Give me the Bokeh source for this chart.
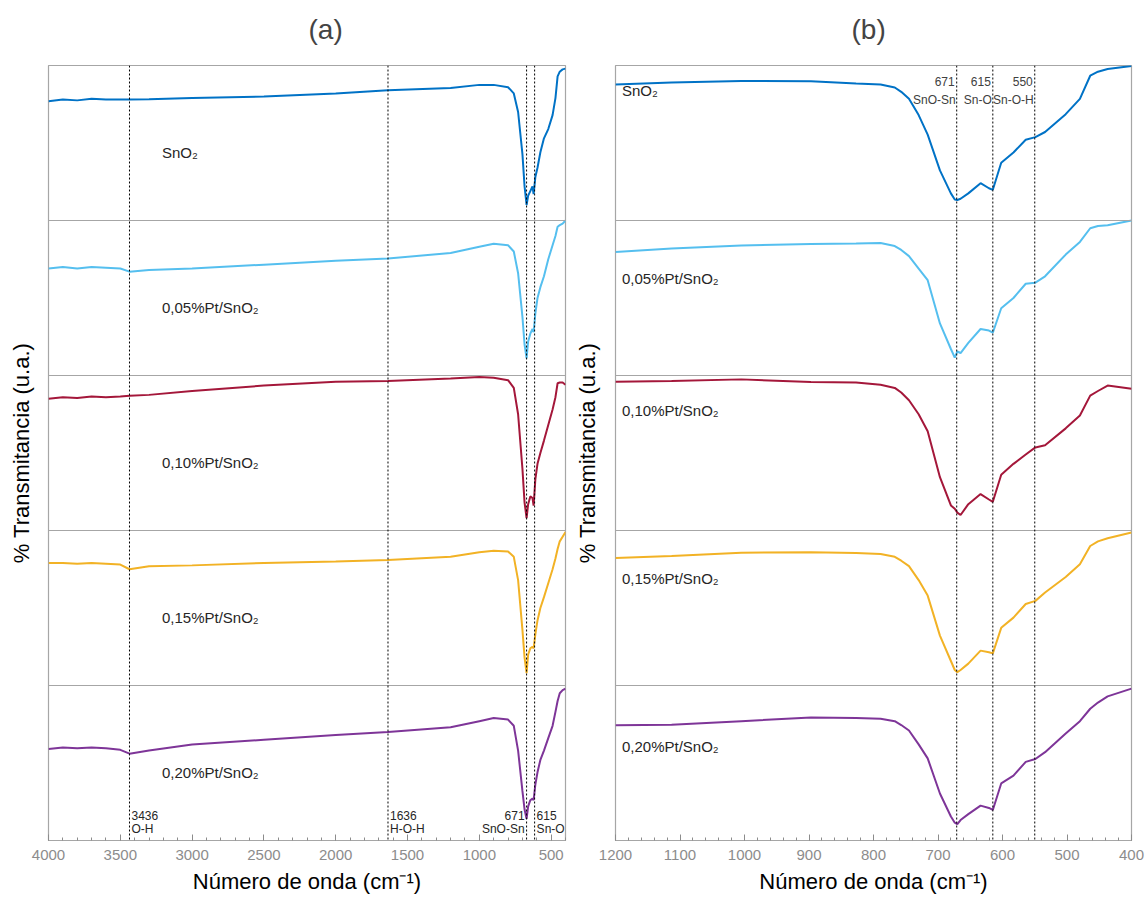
from bokeh.plotting import figure
from bokeh.layouts import row
from bokeh.models import Range1d, Span, SingleIntervalTicker, FixedTicker
from bokeh.core.properties import value
from bokeh.embed import file_html
from bokeh.resources import INLINE

# ---- sample names and colours ----
samples = ["SnO₂", "0,05%Pt/SnO₂", "0,10%Pt/SnO₂", "0,15%Pt/SnO₂", "0,20%Pt/SnO₂"]
colors = ["#0072C6", "#55BFEF", "#A4173A", "#F2B225", "#7E3598"]

# ---- panel (a): full range 4000-400 cm-1 (normalised transmittance within each band) ----
wn_a = [4000, 3900, 3800, 3700, 3600, 3500, 3436, 3300, 3000, 2500, 2000, 1636, 1200,
        1000, 900, 800, 760, 730, 700, 685, 671, 660, 645, 630, 622, 610, 595, 575,
        550, 520, 490, 470, 455, 440, 420, 400]
t_a_sno2 = [0.77, 0.78, 0.775, 0.785, 0.78, 0.78, 0.78, 0.783, 0.79, 0.80, 0.82, 0.84, 0.855,
            0.875, 0.875, 0.86, 0.82, 0.70, 0.43, 0.22, 0.10, 0.16, 0.19, 0.22, 0.17, 0.28,
            0.34, 0.44, 0.53, 0.59, 0.68, 0.79, 0.93, 0.96, 0.975, 0.98]
t_a_005 = [0.69, 0.70, 0.69, 0.70, 0.695, 0.69, 0.67, 0.68, 0.69, 0.715, 0.74, 0.755, 0.79,
           0.83, 0.85, 0.84, 0.80, 0.66, 0.38, 0.20, 0.11, 0.22, 0.27, 0.30, 0.28, 0.40,
           0.50, 0.57, 0.64, 0.75, 0.84, 0.90, 0.96, 0.97, 0.98, 1.0]
t_a_010 = [0.85, 0.86, 0.855, 0.865, 0.86, 0.865, 0.87, 0.875, 0.90, 0.935, 0.96, 0.965, 0.98,
           0.99, 0.985, 0.97, 0.92, 0.75, 0.40, 0.18, 0.08, 0.17, 0.22, 0.21, 0.16, 0.33,
           0.43, 0.50, 0.58, 0.68, 0.78, 0.86, 0.95, 0.955, 0.955, 0.94]
t_a_015 = [0.79, 0.79, 0.785, 0.79, 0.785, 0.78, 0.75, 0.77, 0.775, 0.79, 0.80, 0.81, 0.83,
           0.86, 0.87, 0.865, 0.83, 0.68, 0.36, 0.18, 0.08, 0.20, 0.24, 0.25, 0.24, 0.33,
           0.42, 0.50, 0.57, 0.66, 0.75, 0.82, 0.88, 0.93, 0.96, 0.99]
t_a_020 = [0.59, 0.60, 0.595, 0.60, 0.595, 0.585, 0.56, 0.58, 0.62, 0.65, 0.68, 0.70, 0.73,
           0.77, 0.79, 0.78, 0.74, 0.58, 0.32, 0.20, 0.14, 0.22, 0.26, 0.27, 0.26, 0.36,
           0.44, 0.52, 0.58, 0.66, 0.74, 0.83, 0.90, 0.95, 0.97, 0.98]

# ---- panel (b): zoom 1200-400 cm-1 ----
wn_b = [1200, 1113, 1005, 897, 827, 789, 767, 757, 745, 730, 716, 697, 680, 674, 670, 665,
        653, 634, 621, 615, 602, 583, 564, 549, 534, 502, 480, 464, 452, 437, 400]
t_b_sno2 = [0.878, 0.891, 0.90, 0.898, 0.884, 0.878, 0.858, 0.83, 0.785, 0.68, 0.554, 0.323,
            0.175, 0.135, 0.132, 0.14, 0.175, 0.241, 0.208, 0.198, 0.373, 0.439, 0.521,
            0.538, 0.571, 0.686, 0.785, 0.934, 0.96, 0.977, 0.997]
t_b_005 = [0.796, 0.819, 0.839, 0.849, 0.852, 0.855, 0.835, 0.81, 0.77, 0.69, 0.615, 0.336,
           0.171, 0.115, 0.155, 0.145, 0.21, 0.30, 0.29, 0.276, 0.434, 0.50, 0.592,
           0.599, 0.64, 0.78, 0.862, 0.95, 0.965, 0.97, 1.0]
t_b_010 = [0.96, 0.964, 0.975, 0.958, 0.955, 0.94, 0.92, 0.89, 0.84, 0.75, 0.64, 0.344,
           0.162, 0.14, 0.115, 0.10, 0.17, 0.235, 0.20, 0.185, 0.36, 0.43, 0.49,
           0.536, 0.55, 0.659, 0.742, 0.87, 0.90, 0.935, 0.914]
t_b_015 = [0.822, 0.836, 0.857, 0.859, 0.855, 0.849, 0.83, 0.805, 0.77, 0.68, 0.58, 0.322,
           0.158, 0.10, 0.086, 0.10, 0.141, 0.225, 0.215, 0.207, 0.372, 0.438, 0.526,
           0.546, 0.60, 0.70, 0.783, 0.90, 0.93, 0.95, 0.987]
t_b_020 = [0.743, 0.747, 0.77, 0.793, 0.79, 0.786, 0.77, 0.745, 0.71, 0.62, 0.53, 0.303,
           0.155, 0.115, 0.105, 0.132, 0.17, 0.225, 0.21, 0.197, 0.368, 0.418, 0.507,
           0.526, 0.57, 0.69, 0.77, 0.85, 0.89, 0.93, 0.98]

# band assignments for the dotted marker lines
marks_a = [3436, 1636, 671, 615]
marks_a_num = ["3436", "1636", "671", "615"]
marks_a_name = ["O-H", "H-O-H", "SnO-Sn", "Sn-O"]
marks_b = [671, 615, 550]
marks_b_num = ["671", "615", "550"]
marks_b_name = ["SnO-Sn", "Sn-O", "Sn-O-H"]

series_a = [t_a_sno2, t_a_005, t_a_010, t_a_015, t_a_020]
series_b = [t_b_sno2, t_b_005, t_b_010, t_b_015, t_b_020]

FONT = "Liberation Sans"
N = len(samples)
TOP = 78      # space reserved above the frame
SHIFT = 13    # figure pulled up by this much so the frame starts at y=65


def make_panel(title, x_start, x_end, interval, width, border_left, border_right,
               label_standoff, title_offset):
    p = figure(width=width, height=TOP + 775 + 57, output_backend="svg",
               toolbar_location=None,
               x_range=Range1d(x_start, x_end), y_range=Range1d(0, N),
               min_border_left=border_left, min_border_right=border_right,
               min_border_top=TOP, min_border_bottom=57, margin=(-SHIFT, 0, 0, 0))
    p.title.text = title
    p.title.align = "left"
    p.title.offset = title_offset
    p.title.text_font = FONT
    p.title.text_font_size = "28px"
    p.title.text_font_style = "normal"
    p.title.standoff = 42
    p.grid.visible = False
    p.background_fill_color = "white"
    p.border_fill_color = "white"
    p.outline_line_color = "#a6a6a6"
    p.outline_line_width = 1.2

    xa = p.xaxis[0]
    xa.ticker = SingleIntervalTicker(interval=interval, num_minor_ticks=5)
    xa.axis_line_color = "#a6a6a6"
    xa.major_tick_line_color = "#8c8c8c"
    xa.minor_tick_line_color = "#8c8c8c"
    xa.major_tick_in = 6
    xa.major_tick_out = 0
    xa.minor_tick_in = 3
    xa.minor_tick_out = 0
    xa.major_label_text_font = FONT
    xa.major_label_text_font_size = "15px"
    xa.major_label_text_color = "#8c8c8c"
    xa.major_label_standoff = 9
    xa.axis_label = "Número de onda (cm⁻¹)"
    xa.axis_label_text_font = FONT
    xa.axis_label_text_font_size = "22px"
    xa.axis_label_text_font_style = "normal"
    xa.axis_label_text_color = "black"
    xa.axis_label_standoff = 6

    ya = p.yaxis[0]
    ya.ticker = FixedTicker(ticks=[])
    ya.axis_line_color = None
    ya.major_tick_line_color = None
    ya.minor_tick_line_color = None
    ya.axis_label = "% Transmitancia (u.a.)"
    ya.axis_label_text_font = FONT
    ya.axis_label_text_font_size = "22px"
    ya.axis_label_text_font_style = "normal"
    ya.axis_label_text_color = "black"
    ya.axis_label_standoff = label_standoff

    for k in range(1, N):
        p.add_layout(Span(location=k, dimension="width", line_color="#a6a6a6", line_width=1))
    return p


# ---------------- panel (a) ----------------
pa = make_panel("(a)", 4000, 400, 500, 570, 48, 5, 15, 260)
for i, (t, c) in enumerate(zip(series_a, colors)):
    base = N - 1 - i
    pa.line(wn_a, [base + v for v in t], line_color=c, line_width=2)
for wn in marks_a:
    pa.add_layout(Span(location=wn, dimension="height", line_color="black",
                       line_width=1, line_dash="2 2"))
for wn, num, name in zip(marks_a, marks_a_num, marks_a_name):
    right = wn == 671
    pa.text(x=[wn], y=[0.16], text=[num], text_font=value(FONT), text_font_size="12px",
            text_color="#262626", text_baseline="middle",
            text_align="right" if right else "left", x_offset=-2 if right else 2)
    pa.text(x=[wn], y=[0.075], text=[name], text_font=value(FONT), text_font_size="12px",
            text_color="#262626", text_baseline="middle",
            text_align="right" if right else "left", x_offset=-2 if right else 2)
for i, name in enumerate(samples):
    pa.text(x=[3210], y=[N - 1 - i + 0.44], text=[name], text_font=value(FONT),
            text_font_size="15px", text_color="#262626", text_baseline="middle",
            text_align="left")

# ---------------- panel (b) ----------------
pb = make_panel("(b)", 1200, 400, 100, 578, 45, 17, 16, 236)
for i, (t, c) in enumerate(zip(series_b, colors)):
    base = N - 1 - i
    pb.line(wn_b, [base + v for v in t], line_color=c, line_width=2)
for wn in marks_b:
    pb.add_layout(Span(location=wn, dimension="height", line_color="black",
                       line_width=1, line_dash="2 2"))
for wn, num, name in zip(marks_b, marks_b_num, marks_b_name):
    pb.text(x=[wn], y=[4.897], text=[num], text_font=value(FONT), text_font_size="12px",
            text_color="#404040", text_baseline="middle", text_align="right", x_offset=-2)
    pb.text(x=[wn], y=[4.78], text=[name], text_font=value(FONT), text_font_size="12px",
            text_color="#404040", text_baseline="middle", text_align="right", x_offset=-1)
label_y_b = [4.84, 3.626, 2.774, 1.69, 0.606]
for name, y in zip(samples, label_y_b):
    pb.text(x=[1190], y=[y], text=[name], text_font=value(FONT),
            text_font_size="15px", text_color="#262626", text_baseline="middle",
            text_align="left")

layout = row(pa, pb)
open("out.html", "w").write(file_html(layout, INLINE))
